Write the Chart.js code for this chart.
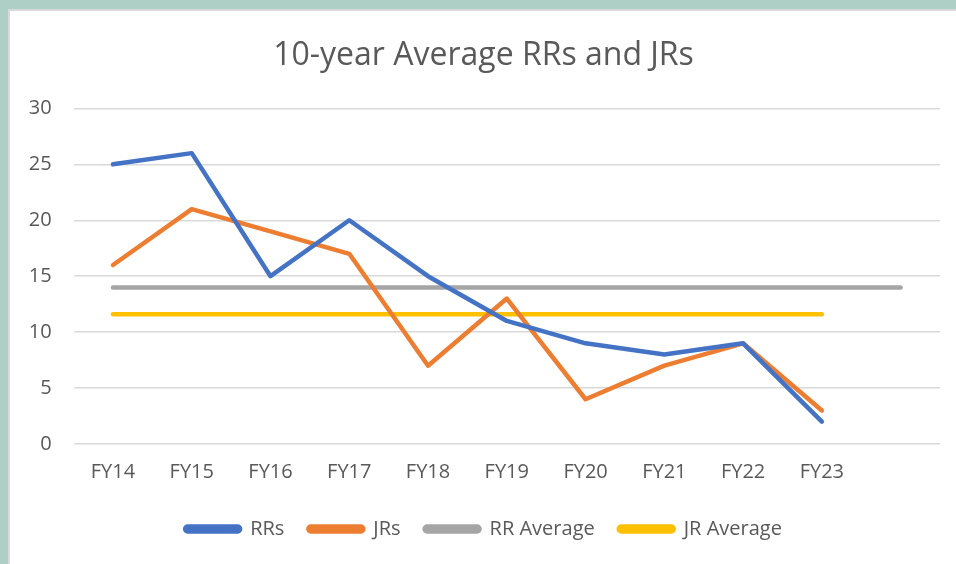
<!DOCTYPE html>
<html>
<head>
<meta charset="utf-8">
<script src="https://cdn.jsdelivr.net/npm/chart.js@4"></script>
<style>
  html, body { margin: 0; padding: 0; }
  body { width: 956px; height: 564px; background: #adcfc6; position: relative; overflow: hidden; }
  #panel { position: absolute; left: 8px; top: 9px; width: 960px; height: 570px; background: #fff; border: 2px solid #d9d9d9; }
  #wrap { position: absolute; left: 0; top: 0; width: 956px; height: 564px; }
</style>
</head>
<body>
<div id="panel"></div>
<div id="wrap"><canvas id="myChart"></canvas></div>
<script>
const years = ['FY14', 'FY15', 'FY16', 'FY17', 'FY18', 'FY19', 'FY20', 'FY21', 'FY22', 'FY23', ''];
const rrs = [25, 26, 15, 20, 15, 11, 9, 8, 9, 2];
const jrs = [16, 21, 19, 17, 7, 13, 4, 7, 9, 3];
const rrAverage = [14, 14, 14, 14, 14, 14, 14, 14, 14, 14, 14];
const jrAverage = [11.6, 11.6, 11.6, 11.6, 11.6, 11.6, 11.6, 11.6, 11.6, 11.6];

const font = '"Open Sans", sans-serif';
const grey = '#595959';

function line(label, values, color){
    return {
        label: label,
        data: values,
        borderColor: color,
        backgroundColor: color,
        borderWidth: 4.5,
        borderCapStyle: 'round',
        borderJoinStyle: 'round',
        pointRadius: 0,
        pointHoverRadius: 0,
        tension: 0
    };
}

const data = {
    labels: years,
    datasets: [
        line('RRs', rrs, '#4472c4'),
        line('JRs', jrs, '#ed7d31'),
        line('RR Average', rrAverage, '#a5a5a5'),
        line('JR Average', jrAverage, '#ffc000')
    ]
};

const config = {
    type: 'line',
    data: data,
    options: {
        responsive: true,
        maintainAspectRatio: false,
        animation: false,
        // left padding keeps the title/legend centre near x=490 like the original
        layout: {padding: {left: 27, right: 16, top: 10, bottom: 15}},
        plugins: {
            title: {
                display: true,
                text: '10-year Average RRs and JRs',
                color: grey,
                font: {family: font, size: 32, weight: 'normal'},
                padding: {top: 27, bottom: 33}
            },
            legend: {
                position: 'bottom',
                labels: {
                    color: grey,
                    font: {family: font, size: 20},
                    boxWidth: 55,
                    boxHeight: 5,
                    useBorderRadius: true,
                    borderRadius: 2.5,
                    padding: 24
                }
            },
            tooltip: {enabled: false}
        },
        scales: {
            x: {
                offset: true,
                afterFit: function(scale){ scale.height = 51; },
                grid: {display: false, drawTicks: false, offset: true},
                border: {display: false},
                ticks: {color: grey, font: {family: font, size: 20}, padding: 16, maxRotation: 0, autoSkip: false}
            },
            y: {
                min: 0,
                max: 30,
                afterFit: function(scale){ scale.width = 73.6 - 27; },
                grid: {color: '#d9d9d9', lineWidth: 1.5, drawTicks: false},
                border: {display: false},
                ticks: {stepSize: 5, color: grey, font: {family: font, size: 20}, padding: 22}
            }
        }
    }
};

const ctx = document.getElementById('myChart').getContext('2d');
const myChart = new Chart(ctx, config);
</script>
</body>
</html>
